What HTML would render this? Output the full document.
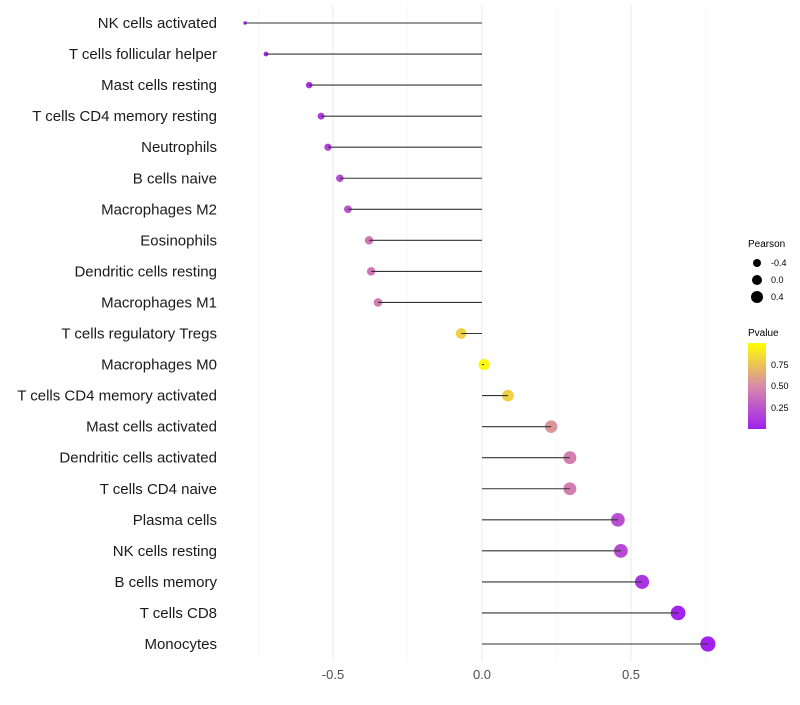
<!DOCTYPE html>
<html><head><meta charset="utf-8"><style>
body{margin:0;background:#fff;font-family:"Liberation Sans",sans-serif}
</style></head><body>
<svg id="chart" width="800" height="700" xmlns="http://www.w3.org/2000/svg">
<defs><linearGradient id="pg" x1="0" y1="1" x2="0" y2="0">
<stop offset="0" stop-color="#a020f0"/><stop offset="0.5" stop-color="#d88aa8"/><stop offset="1" stop-color="#ffff00"/>
</linearGradient></defs>
<g id="grid"></g><g id="dots"></g><g id="marks"></g><g id="labels"></g>
<g font-size="9" fill="#000">
<text x="748" y="247" font-size="10">Pearson</text>
<circle cx="757" cy="263" r="4"/><text x="771" y="266">-0.4</text>
<circle cx="757" cy="280" r="5"/><text x="771" y="283">0.0</text>
<circle cx="757" cy="297" r="6"/><text x="771" y="300">0.4</text>
</g>
<g font-size="9" fill="#000">
<text x="748" y="336" font-size="10">Pvalue</text>
<rect x="748" y="343" width="18" height="86" fill="url(#pg)"/>
<text x="771" y="368">0.75</text><text x="771" y="389">0.50</text><text x="771" y="411">0.25</text>
</g>
</svg>
<script>
const categories=["NK cells activated","T cells follicular helper","Mast cells resting","T cells CD4 memory resting","Neutrophils","B cells naive","Macrophages M2","Eosinophils","Dendritic cells resting","Macrophages M1","T cells regulatory  Tregs","Macrophages M0","T cells CD4 memory activated","Mast cells activated","Dendritic cells activated","T cells CD4 naive","Plasma cells","NK cells resting","B cells memory","T cells CD8","Monocytes"];
const pearson=[-0.795,-0.725,-0.58,-0.54,-0.517,-0.477,-0.45,-0.379,-0.372,-0.349,-0.07,0.007,0.087,0.232,0.295,0.295,0.456,0.466,0.537,0.658,0.758];
const pvalue=[0.01,0.03,0.1,0.13,0.15,0.2,0.25,0.4,0.4,0.45,0.8,0.98,0.8,0.55,0.45,0.45,0.22,0.2,0.1,0.02,0.01];
const xTicks=[-0.5,0.0,0.5];
const xTickLabels=["-0.5","0.0","0.5"];
const NS="http://www.w3.org/2000/svg";
const xs=v=>482+v*298;
const ys=i=>23+i*31.05;
const rs=v=>Math.sqrt(3+35*(v+0.8));
function mix(a,b,t){return a.map((c,i)=>Math.round(c+(b[i]-c)*t));}
function col(p){const A=[160,32,240],M=[216,138,168],B=[255,255,0];const c=p<0.5?mix(A,M,p/0.5):mix(M,B,(p-0.5)/0.5);return `rgb(${c.join(',')})`;}
function mk(t,a,par){const e=document.createElementNS(NS,t);for(const k in a)e.setAttribute(k,a[k]);document.getElementById(par).appendChild(e);return e;}
[-0.75,-0.5,-0.25,0,0.25,0.5,0.75].forEach(v=>{
 const l=mk('line',{x1:xs(v),x2:xs(v),y1:5,y2:662,stroke:xTicks.includes(v)?'#ebebeb':'#f4f4f4','stroke-width':xTicks.includes(v)?1:0.6},'grid');
 
 
});
xTicks.forEach((v,i)=>{
 const t=mk('text',{x:xs(v),y:679,'text-anchor':'middle','font-size':13,fill:'#4d4d4d'},'labels');t.textContent=xTickLabels[i];
 
 
});
categories.forEach((c,i)=>{
 const y=ys(i);
 const t=mk('text',{x:217,y:y+5,'text-anchor':'end','font-size':15,fill:'#1a1a1a'},'labels');t.textContent=c;
 
 
 const p=mk('circle',{cx:xs(pearson[i]),cy:y,r:rs(pearson[i]),fill:col(pvalue[i])},'dots');
 
 
 const l=mk('line',{x1:xs(0),x2:xs(pearson[i]),y1:y,y2:y,stroke:'#333','stroke-width':1.1},'marks');
 
 
});
</script>
</body></html>
